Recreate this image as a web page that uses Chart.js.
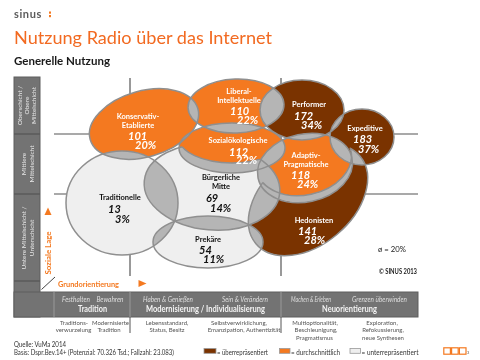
<!DOCTYPE html>
<html lang="de">
<head>
<meta charset="utf-8">
<title>Nutzung Radio über das Internet</title>
<script src="https://cdn.jsdelivr.net/npm/chart.js@4.4.1/dist/chart.umd.min.js"></script>
<style>
html,body{margin:0;padding:0;background:#fff;}
#wrap{position:relative;width:480px;height:360px;overflow:hidden;background:#fff;}
#c{position:absolute;left:0;top:0;width:480px;height:360px;}
#frame{position:absolute;left:0;top:0;font-family:Lato,"Open Sans",sans-serif;pointer-events:none;}
</style>
</head>
<body>
<div id="wrap">
<canvas id="c" width="480" height="360"></canvas>
<svg id="frame" width="480" height="360" xmlns="http://www.w3.org/2000/svg">
  <!-- header -->
  <text x="14" y="17.5" font-size="11" font-weight="bold" fill="#5a5a5a" letter-spacing="0.6">sinus</text>
  <rect x="49" y="11.5" width="2" height="2.2" fill="#f47920"/>
  <rect x="49" y="15" width="2" height="2.2" fill="#f47920"/>
  <text x="14" y="43.5" font-size="17.5" fill="#f26a21" textLength="258" lengthAdjust="spacingAndGlyphs">Nutzung Radio über das Internet</text>
  <text x="14" y="65" font-size="10.5" font-weight="bold" fill="#1a1a1a" textLength="96" lengthAdjust="spacingAndGlyphs">Generelle Nutzung</text>

  <!-- left column -->
  <rect x="14" y="77" width="26" height="240" fill="#737373" stroke="#5f5f5f" stroke-width="1"/>
  <line x1="14" y1="134" x2="40" y2="134" stroke="#5a5a5a" stroke-width="1.5"/>
  <line x1="14" y1="194" x2="40" y2="194" stroke="#5a5a5a" stroke-width="1.5"/>
  <line x1="14" y1="281" x2="40" y2="281" stroke="#5a5a5a" stroke-width="1.5"/>
  <g font-size="6.5" fill="#e6e6e6" text-anchor="middle">
    <g transform="rotate(-90 27 105.5)">
      <text x="27" y="100.8">Oberschicht /</text>
      <text x="27" y="107.6">Obere</text>
      <text x="27" y="114.3">Mittelschicht</text>
    </g>
    <g transform="rotate(-90 27 164)">
      <text x="27" y="163.3">Mittlere</text>
      <text x="27" y="171">Mittelschicht</text>
    </g>
    <g transform="rotate(-90 27 238)">
      <text x="27" y="237.3">Untere Mittelschicht /</text>
      <text x="27" y="245">Unterschicht</text>
    </g>
  </g>
  <text transform="rotate(-90 48.5 253)" x="48.5" y="255.8" font-size="7.5" font-weight="bold" fill="#f47920" text-anchor="middle" textLength="43" lengthAdjust="spacingAndGlyphs">Soziale Lage</text>
  <polygon points="44.5,215 51.5,215 48,207.5" fill="#f47920"/>

  <!-- corner -->
  <line x1="41.5" y1="289.5" x2="55" y2="277" stroke="#444" stroke-width="1"/>
  <text x="58" y="287" font-size="8" font-weight="bold" fill="#f47920" textLength="61" lengthAdjust="spacingAndGlyphs">Grundorientierung</text>
  <polygon points="138.5,280 138.5,287 146.5,283.5" fill="#f47920"/>

  <!-- bottom bar -->
  <rect x="14" y="292" width="404" height="25" fill="#737373" stroke="#5f5f5f" stroke-width="1"/>
  <line x1="54" y1="292" x2="54" y2="317" stroke="#9a9a9a" stroke-width="1"/>
  <line x1="130" y1="292" x2="130" y2="317" stroke="#9a9a9a" stroke-width="1"/>
  <line x1="281" y1="292" x2="281" y2="317" stroke="#9a9a9a" stroke-width="1"/>
  <g font-size="7" font-style="italic" fill="#dedede" text-anchor="middle">
    <text x="76" y="301.5" textLength="28" lengthAdjust="spacingAndGlyphs">Festhalten</text>
    <text x="110" y="301.5" textLength="27" lengthAdjust="spacingAndGlyphs">Bewahren</text>
    <text x="168" y="301.5" textLength="50" lengthAdjust="spacingAndGlyphs">Haben &amp; Genießen</text>
    <text x="245" y="301.5" textLength="46" lengthAdjust="spacingAndGlyphs">Sein &amp; Verändern</text>
    <text x="311" y="301.5" textLength="40" lengthAdjust="spacingAndGlyphs">Machen &amp; Erleben</text>
    <text x="379.5" y="301.5" textLength="55" lengthAdjust="spacingAndGlyphs">Grenzen überwinden</text>
  </g>
  <g font-size="8.5" font-weight="bold" fill="#f4f4f4" text-anchor="middle">
    <text x="92.5" y="312" textLength="29" lengthAdjust="spacingAndGlyphs">Tradition</text>
    <text x="205.5" y="312" textLength="119" lengthAdjust="spacingAndGlyphs">Modernisierung / Individualisierung</text>
    <text x="349.5" y="312" textLength="55" lengthAdjust="spacingAndGlyphs">Neuorientierung</text>
  </g>

  <!-- descriptions -->
  <line x1="130" y1="317" x2="130" y2="333" stroke="#555" stroke-width="1"/>
  <line x1="281" y1="317" x2="281" y2="333" stroke="#555" stroke-width="1"/>
  <g font-size="6" fill="#555" text-anchor="middle">
    <text x="74" y="324.5">Traditions-</text>
    <text x="73.5" y="332">verwurzelung</text>
    <text x="110.5" y="324.5">Modernisierte</text>
    <text x="109" y="332">Tradition</text>
    <text x="167" y="324.5">Lebensstandard,</text>
    <text x="167" y="332">Status, Besitz</text>
    <text x="239" y="324.5">Selbstverwirklichung,</text>
    <text x="244" y="332">Emanzipation, Authentizität</text>
    <text x="315" y="324.5">Multioptionalität,</text>
    <text x="316" y="332">Beschleunigung,</text>
    <text x="314.5" y="339.5">Pragmatismus</text>
    <text x="382" y="324.5">Exploration,</text>
    <text x="383" y="332">Refokussierung,</text>
    <text x="383" y="339.5">neue Synthesen</text>
  </g>

  <!-- map notes -->
  <text x="378" y="251.5" font-size="7.5" fill="#222" textLength="28" lengthAdjust="spacingAndGlyphs">ø = 20%</text>
  <text x="379" y="273.5" font-size="6.5" font-weight="bold" fill="#222" textLength="38" lengthAdjust="spacingAndGlyphs">© SINUS 2013</text>

  <!-- footer -->
  <text x="14" y="346.5" font-size="7" fill="#333" textLength="52" lengthAdjust="spacingAndGlyphs">Quelle: VuMa 2014</text>
  <text x="14" y="355" font-size="7" fill="#333" textLength="160" lengthAdjust="spacingAndGlyphs">Basis: Dspr.Bev.14+ (Potenzial: 70.326 Tsd.; Fallzahl: 23.083)</text>
  <rect x="204" y="348.5" width="12" height="4.8" fill="#7a3300" stroke="#999" stroke-width="0.8"/>
  <text x="217" y="355" font-size="7" fill="#333" textLength="51" lengthAdjust="spacingAndGlyphs">= überrepräsentiert</text>
  <rect x="279.5" y="348.5" width="10.5" height="4.8" fill="#f47920" stroke="#999" stroke-width="0.8"/>
  <text x="291" y="355" font-size="7" fill="#333" textLength="49" lengthAdjust="spacingAndGlyphs">= durchschnittlich</text>
  <rect x="350" y="348.5" width="10.5" height="4.8" fill="#efefef" stroke="#999" stroke-width="0.8"/>
  <text x="361.5" y="355" font-size="7" fill="#333" textLength="57" lengthAdjust="spacingAndGlyphs">= unterrepräsentiert</text>
  <g fill="none" stroke="#f47920" stroke-width="1.2">
    <rect x="443.8" y="347.8" width="6.6" height="6.4"/>
    <rect x="451.6" y="347.8" width="6.6" height="6.4"/>
    <rect x="459.4" y="347.8" width="6.6" height="6.4"/>
  </g>
  <text x="467" y="354" font-size="4" fill="#555">3</text>
</svg>
</div>
<script>
// ---------------- data ----------------
const milieuNames = [
  ['Konservativ-', 'Etablierte'],
  ['Liberal-', 'Intellektuelle'],
  ['Performer'],
  ['Expeditive'],
  ['Traditionelle'],
  ['Bürgerliche', 'Mitte'],
  ['Sozialökologische'],
  ['Adaptiv-', 'Pragmatische'],
  ['Prekäre'],
  ['Hedonisten']
];
const indexValues   = [101, 110, 172, 183, 13, 69, 112, 118, 54, 141];
const sharePercent  = [20, 22, 34, 37, 3, 14, 22, 24, 11, 28];
const averageShare  = 20;
// class boundaries on the map (social level / basic orientation axes)
const socialBounds      = [82, 142];
const orientationBounds = [76, 227];

// ---------------- layout (map units) ----------------
const milieuShapes = [
  {cx: 90,  cy: 152, rx: 56, ry: 33, rot: -16},
  {cx: 182, cy: 170, rx: 48, ry: 27, rot: -2},
  {cx: 248, cy: 166, rx: 42, ry: 30, rot: 0},
  {cx: 308, cy: 139, rx: 32, ry: 28, rot: 0},
  {cx: 68,  cy: 73,  rx: 56, ry: 52, rot: 0},
  {cx: 158, cy: 89,  rx: 68, ry: 43, rot: 5, cut: {cx: 178, cy: 138, rx: 53, ry: 25, rot: 0}},
  {cx: 178, cy: 128, rx: 53, ry: 25, rot: 0},
  {cx: 251, cy: 108, rx: 48, ry: 34, rot: -12},
  {cx: 154, cy: 34,  rx: 55, ry: 26, rot: 0},
  {cx: 254, cy: 76,  rx: 68, ry: 45, rot: -40, cut: {cx: 250, cy: 115, rx: 48, ry: 34, rot: -12}}
];
const namePos = [[84,159],[185,184],[255,171],[311,147],[66,78],[167,98],[184,135],[252,120],[154,36],[260,55]];
const valuePos = [[74,140],[176,165],[240,160],[299,137],[54,67],[152,78],[175,124],[237,101],[145,26],[244,45]];
const pctPos   = [[81,131],[183,156],[247,151],[304,127],[61,57],[156,68],[182,116],[243,92],[149,17],[250,36]];

const COL_OVER = '#7a3300', COL_AVG = '#f47920', COL_UNDER = '#efefef';
const COL_LENS = '#b5b5b5', COL_EDGE = '#8f8f8f';
const colorFor = v => v >= 120 ? COL_OVER : (v >= 80 ? COL_AVG : COL_UNDER);

const mapPlugin = {
  id: 'milieuMap',
  beforeDatasetsDraw(chart) {
    const ctx = chart.ctx, xs = chart.scales.x, ys = chart.scales.y, ca = chart.chartArea;
    const W = chart.width, H = chart.height;
    const px = v => xs.getPixelForValue(v), py = v => ys.getPixelForValue(v);
    const sx = r => Math.abs(xs.getPixelForValue(r) - xs.getPixelForValue(0));
    const sy = r => Math.abs(ys.getPixelForValue(r) - ys.getPixelForValue(0));
    const ell = e => ctx.ellipse(px(e.cx), py(e.cy), sx(e.rx), sy(e.ry), e.rot * Math.PI / 180, 0, 2 * Math.PI);
    const clipShape = s => {
      ctx.beginPath(); ell(s); ctx.clip();
      if (s.cut) { ctx.beginPath(); ctx.rect(0, 0, W, H); ell(s.cut); ctx.clip('evenodd'); }
    };
    // grid lines at class boundaries
    ctx.save();
    ctx.strokeStyle = '#555'; ctx.lineWidth = 1.2;
    orientationBounds.forEach(v => { ctx.beginPath(); ctx.moveTo(px(v), ca.top); ctx.lineTo(px(v), ca.bottom); ctx.stroke(); });
    socialBounds.forEach(v => { ctx.beginPath(); ctx.moveTo(ca.left, py(v)); ctx.lineTo(ca.right, py(v)); ctx.stroke(); });
    ctx.restore();
    // fills
    milieuShapes.forEach((s, i) => {
      ctx.save(); clipShape(s); ctx.fillStyle = colorFor(indexValues[i]); ctx.fillRect(0, 0, W, H); ctx.restore();
    });
    // overlaps
    for (let i = 0; i < milieuShapes.length; i++) {
      for (let j = i + 1; j < milieuShapes.length; j++) {
        ctx.save(); clipShape(milieuShapes[i]); clipShape(milieuShapes[j]);
        ctx.fillStyle = COL_LENS; ctx.fillRect(0, 0, W, H); ctx.restore();
      }
    }
    // outlines
    ctx.strokeStyle = COL_EDGE; ctx.lineWidth = 1.5;
    milieuShapes.forEach(s => {
      ctx.save();
      if (s.cut) { ctx.beginPath(); ctx.rect(0, 0, W, H); ell(s.cut); ctx.clip('evenodd'); }
      ctx.beginPath(); ell(s); ctx.stroke(); ctx.restore();
      if (s.cut) {
        ctx.save(); ctx.beginPath(); ell(s); ctx.clip();
        ctx.beginPath(); ell(s.cut); ctx.stroke(); ctx.restore();
      }
    });
    // labels
    milieuNames.forEach((lines, i) => {
      const dark = colorFor(indexValues[i]) === COL_UNDER;
      ctx.fillStyle = dark ? '#111' : '#fff';
      ctx.textBaseline = 'middle';
      ctx.textAlign = 'center';
      ctx.font = 'bold 7.5px Lato, sans-serif';
      lines.forEach((t, k) => ctx.fillText(t, px(namePos[i][0]), py(namePos[i][1]) + k * 9));
      ctx.textAlign = 'left';
      ctx.font = 'italic bold 11px Lato, sans-serif';
      ctx.fillText(String(indexValues[i]), px(valuePos[i][0]), py(valuePos[i][1]));
      ctx.fillText(sharePercent[i] + '%', px(pctPos[i][0]), py(pctPos[i][1]));
    });
  }
};

new Chart(document.getElementById('c'), {
  type: 'scatter',
  data: { datasets: [{ label: 'Milieus', data: milieuShapes.map(s => ({x: s.cx, y: s.cy})), pointRadius: 0, pointHoverRadius: 0 }] },
  options: {
    responsive: false, animation: false, events: [],
    layout: { padding: { left: 54, right: 62, top: 78, bottom: 84 } },
    plugins: { legend: { display: false }, tooltip: { enabled: false } },
    scales: {
      x: { type: 'linear', display: false, min: 0, max: 364 },
      y: { type: 'linear', display: false, min: 0, max: 198 }
    }
  },
  plugins: [mapPlugin]
});
</script>
</body>
</html>
